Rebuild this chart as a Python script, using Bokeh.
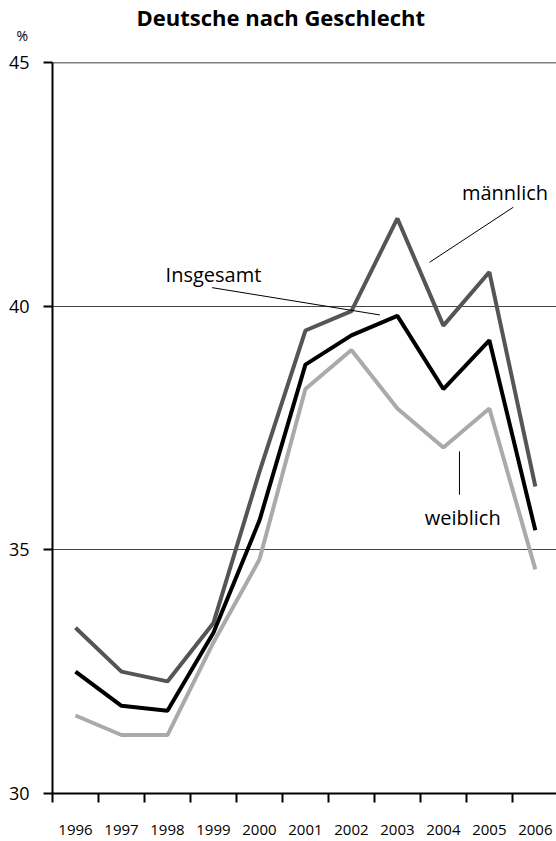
from bokeh.plotting import figure
from bokeh.models import Range1d, FixedTicker, Span, Label, Title
from bokeh.embed import file_html
from bokeh.resources import INLINE

years = [1996, 1997, 1998, 1999, 2000, 2001, 2002, 2003, 2004, 2005, 2006]
maennlich = [33.4, 32.5, 32.3, 33.5, 36.6, 39.5, 39.9, 41.8, 39.6, 40.7, 36.3]
insgesamt = [32.5, 31.8, 31.7, 33.3, 35.6, 38.8, 39.4, 39.8, 38.3, 39.3, 35.4]
weiblich = [31.6, 31.2, 31.2, 33.1, 34.8, 38.3, 39.1, 37.9, 37.1, 37.9, 34.6]
y_ticks = [30, 35, 40, 45]
grid_values = [35, 40]
title_text = "Deutsche nach Geschlecht"
unit_text = "%"

# annotation (label text, text x, text y, line x0, y0, x1, y1) in data space
annotations = [
    ("männlich", 2005.34, 42.33, 2005.52, 42.03, 2003.70, 40.90),
    ("Insgesamt", 1999.0, 40.65, 1998.97, 40.38, 2002.62, 39.82),
    ("weiblich", 2004.42, 35.66, 2004.35, 37.02, 2004.35, 36.13),
]

FONT = "Open Sans"

p = figure(width=556, height=841, output_backend="svg", toolbar_location=None,
           x_range=Range1d(1995.5, 2006.46), y_range=Range1d(30, 45),
           min_border_left=52, min_border_right=0, min_border_top=62,
           min_border_bottom=48, title=None)
p.outline_line_color = None
p.background_fill_color = "white"
p.border_fill_color = "white"

unit_title = Title(text=unit_text, align="left", offset=-36, standoff=35,
                   text_font=FONT, text_font_size="14px", text_font_style="normal",
                   text_color="black")
main_title = Title(text=title_text, align="left", offset=84, standoff=-50,
                   text_font=FONT, text_font_size="22px", text_font_style="bold",
                   text_color="black")
p.add_layout(unit_title, "above")
p.add_layout(main_title, "above")

# grid
p.xgrid.visible = False
p.ygrid.ticker = FixedTicker(ticks=grid_values)
p.ygrid.grid_line_color = "#444444"
p.ygrid.grid_line_width = 1
p.add_layout(Span(location=45, dimension="width", line_color="black", line_width=1.5))

# x axis
xa = p.xaxis[0]
xa.ticker = FixedTicker(ticks=years, minor_ticks=[y - 0.5 for y in years])
xa.major_tick_out = 0
xa.major_tick_in = 0
xa.minor_tick_out = 9
xa.minor_tick_in = 0
xa.minor_tick_line_width = 2
xa.minor_tick_line_color = "black"
xa.axis_line_width = 2
xa.axis_line_color = "black"
xa.major_label_standoff = 22
xa.major_label_text_font = FONT
xa.major_label_text_font_size = "15px"
xa.major_label_text_color = "black"

# y axis
ya = p.yaxis[0]
ya.ticker = FixedTicker(ticks=y_ticks)
ya.major_tick_out = 9
ya.major_tick_in = 0
ya.major_tick_line_width = 2
ya.minor_tick_out = 0
ya.minor_tick_in = 0
ya.axis_line_width = 2
ya.axis_line_color = "black"
ya.major_label_standoff = 14
ya.major_label_text_font = FONT
ya.major_label_text_font_size = "18px"
ya.major_label_text_color = "black"

p.line(years, weiblich, line_color="#aaaaaa", line_width=4)
p.line(years, maennlich, line_color="#555555", line_width=4)
p.line(years, insgesamt, line_color="black", line_width=4)

for txt, tx, ty, x0, y0, x1, y1 in annotations:
    p.segment(x0=[x0], y0=[y0], x1=[x1], y1=[y1], line_color="black", line_width=1)
    p.add_layout(Label(x=tx, y=ty, text=txt, text_align="center", text_baseline="middle",
                       text_font=FONT, text_font_size="20px", text_color="black"))

open("out.html", "w").write(file_html(p, INLINE))
